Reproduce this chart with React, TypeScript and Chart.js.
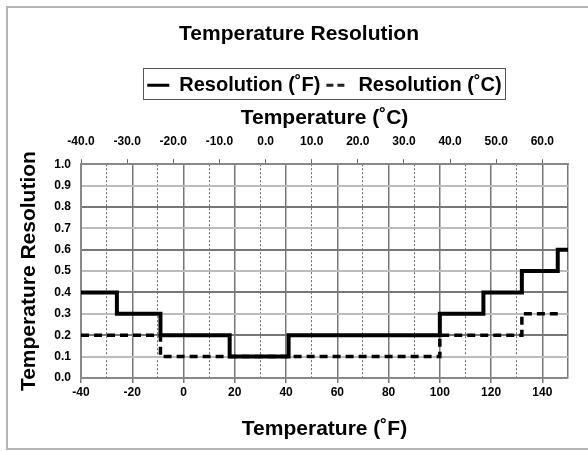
import React, { useEffect, useRef } from 'react';
import { Chart, registerables } from 'chart.js';

Chart.register(...registerables);

// Step break points (°F) and the resolution that starts at each one
const fBreaks = [-40, -26, -9, 18, 41, 100, 117, 132, 146, 150];
const fValues = [0.4, 0.3, 0.2, 0.1, 0.2, 0.3, 0.4, 0.5, 0.6, 0.6];
const cBreaks = [-40, -9, 100, 132, 146];
const cValues = [0.2, 0.1, 0.2, 0.3, 0.3];

const fLabel = 'Resolution (˚F)';
const cLabel = 'Resolution (˚C)';
const chartTitle = 'Temperature Resolution';
const bottomTitle = 'Temperature (˚F)';
const topTitle = 'Temperature (˚C)';
const leftTitle = 'Temperature Resolution';

const fMin = -40;
const fMax = 150;
const toC = (f: number) => ((f - 32) * 5) / 9;

const FONT = "'Liberation Sans', Arial, Helvetica, sans-serif";

// Centre the title on the whole frame and the legend on the plot area
const placeBlocks = {
  id: 'placeBlocks',
  afterLayout(chart: any) {
    const t = chart.titleBlock;
    if (t) {
      t.left = 7;
      t.right = 591;
      t.width = t.right - t.left;
    }
    const lg = chart.legend;
    if (lg && chart.chartArea) {
      lg.left = chart.chartArea.left;
      lg.right = chart.chartArea.right;
      lg.width = lg.right - lg.left;
    }
  },
};

const legendBox = {
  id: 'legendBox',
  afterDraw(chart: any) {
    const lg = chart.legend;
    if (!lg || !lg.legendHitBoxes || !lg.legendHitBoxes.length) return;
    const hb = lg.legendHitBoxes;
    let l = Infinity, r = -Infinity, t = Infinity, b = -Infinity;
    hb.forEach((h: any) => {
      l = Math.min(l, h.left);
      r = Math.max(r, h.left + h.width);
      t = Math.min(t, h.top);
      b = Math.max(b, h.top + h.height);
    });
    const ctx = chart.ctx;
    ctx.save();
    ctx.strokeStyle = '#555';
    ctx.lineWidth = 1;
    ctx.strokeRect(Math.round(l - 4) + 0.5, Math.round(t - 7) + 0.5, Math.round(r - l + 8), Math.round(b - t + 11));
    ctx.restore();
  },
};

export default function App() {
  const ref = useRef<HTMLCanvasElement>(null);

  useEffect(() => {
    if (!ref.current) return;
    const chart = new Chart(ref.current, {
      type: 'line',
      data: {
        datasets: [
          {
            label: fLabel,
            data: fBreaks.map((x, i) => ({ x, y: fValues[i] })),
            borderColor: '#000',
            backgroundColor: '#000',
            borderWidth: 4,
            stepped: true,
            pointRadius: 0,
            fill: false,
          },
          {
            label: cLabel,
            data: cBreaks.map((x, i) => ({ x, y: cValues[i] })),
            borderColor: '#000',
            backgroundColor: '#000',
            borderWidth: 3.5,
            borderDash: [8, 5],
            stepped: true,
            pointRadius: 0,
            fill: false,
          },
        ],
      },
      options: {
        responsive: false,
        animation: false,
        devicePixelRatio: 1,
        layout: { padding: { left: 8, right: 20, top: 0, bottom: 8 } },
        plugins: {
          tooltip: { enabled: false },
          title: {
            display: true,
            text: chartTitle,
            color: '#000',
            font: { family: FONT, size: 21, weight: 'bold' },
            padding: { top: 22, bottom: 22 },
          },
          legend: {
            display: true,
            position: 'top',
            labels: {
              color: '#000',
              font: { family: FONT, size: 20, weight: 'bold' },
              usePointStyle: true,
              pointStyle: 'line',
              pointStyleWidth: 22,
              boxHeight: 20,
              padding: 6,
              generateLabels: (c: any) =>
                c.data.datasets.map((ds: any, i: number) => ({
                  text: ds.label,
                  fillStyle: '#000',
                  strokeStyle: i === 1 ? '#222' : '#000',
                  lineWidth: 3,
                  lineDash: i === 1 ? [7, 4] : [],
                  lineCap: 'butt',
                  pointStyle: 'line',
                  hidden: false,
                  datasetIndex: i,
                })),
            },
          },
        },
        scales: {
          x: {
            type: 'linear',
            position: 'bottom',
            min: fMin,
            max: fMax,
            afterFit: (s: any) => { s.height = 65; },
            ticks: {
              stepSize: 10,
              autoSkip: false,
              maxRotation: 0,
              color: '#000',
              padding: 2,
              font: { family: FONT, size: 12, weight: 'bold' },
              callback: (v: any) => (Number(v) % 20 === 0 ? String(v) : ''),
            },
            grid: {
              color: (c: any) => {
                const v = c.tick ? c.tick.value : 0;
                return v % 20 === 0 || v === fMax ? '#777' : '#666';
              },
              lineWidth: (c: any) => {
                const v = c.tick ? c.tick.value : 0;
                return v % 20 === 0 || v === fMax ? 1.5 : 1;
              },
              tickColor: (c: any) => {
                const v = c.tick ? c.tick.value : 0;
                return v % 20 === 0 ? '#777' : 'rgba(0,0,0,0)';
              },
              tickLength: 5,
            },
            border: {
              display: true,
              color: '#888',
              width: 2,
              dash: (c: any) => {
                const v = c.tick ? c.tick.value : 0;
                return v % 20 === 0 || v === fMax ? [] : [2, 2];
              },
            },
            title: {
              display: true,
              text: bottomTitle,
              color: '#000',
              font: { family: FONT, size: 21, weight: 'bold' },
              padding: { top: 0, bottom: 1 },
            },
          },
          x2: {
            type: 'linear',
            position: 'top',
            min: toC(fMin),
            max: toC(fMax),
            afterFit: (s: any) => { s.height = 59; },
            ticks: {
              stepSize: 10,
              includeBounds: false,
              autoSkip: false,
              maxRotation: 0,
              color: '#000',
              padding: 10,
              font: { family: FONT, size: 12, weight: 'bold' },
              callback: (v: any) => Number(v).toFixed(1),
            },
            grid: {
              drawOnChartArea: false,
              tickLength: 5,
              tickColor: '#666',
            },
            border: { display: true, color: '#888', width: 2 },
            title: {
              display: true,
              text: topTitle,
              color: '#000',
              font: { family: FONT, size: 21, weight: 'bold' },
              padding: { top: 0, bottom: 0 },
            },
          },
          y: {
            type: 'linear',
            min: 0,
            max: 1,
            afterFit: (s: any) => { s.width = 73; },
            ticks: {
              stepSize: 0.1,
              color: '#000',
              padding: 10,
              font: { family: FONT, size: 12, weight: 'bold' },
              callback: (v: any) => Number(v).toFixed(1),
            },
            grid: {
              drawTicks: false,
              color: (c: any) => {
                const v = c.tick ? Math.round(c.tick.value * 10) : 0;
                return v % 2 === 0 ? '#777' : '#bbb';
              },
              lineWidth: 2,
            },
            border: { display: true, color: '#888', width: 2 },
            title: {
              display: true,
              text: leftTitle,
              color: '#000',
              font: { family: FONT, size: 21, weight: 'bold' },
              padding: { top: 9, bottom: 0 },
            },
          },
        },
      },
      plugins: [placeBlocks, legendBox],
    } as any);
    return () => chart.destroy();
  }, []);

  return (
    <div style={{ position: 'absolute', left: 0, top: 0, width: 588, height: 451, background: '#fff', overflow: 'hidden' }}>
      <canvas ref={ref} width={588} height={451} style={{ position: 'absolute', left: 0, top: 0 }} />
      <div
        style={{
          position: 'absolute',
          left: 6,
          top: 6,
          width: 620,
          height: 444,
          border: '2px solid #b5b5b5',
          boxSizing: 'border-box',
          pointerEvents: 'none',
        }}
      />
    </div>
  );
}
